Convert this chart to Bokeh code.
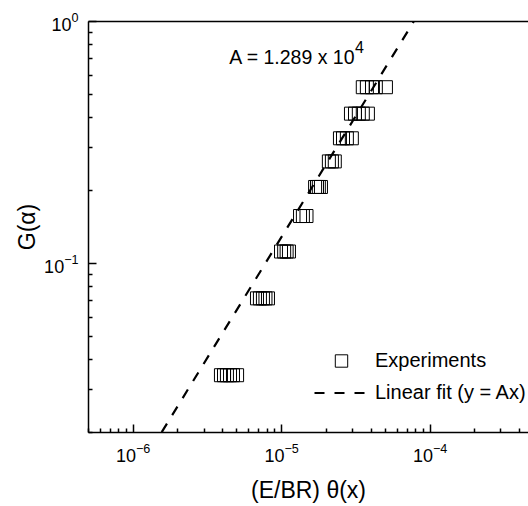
from bokeh.plotting import figure
from bokeh.models import LogAxis, FixedTicker, Legend, LegendItem, Label, ColumnDataSource
from bokeh.embed import file_html
from bokeh.resources import INLINE

# ---- data ----
g_levels = [0.535, 0.416, 0.329, 0.264, 0.207, 0.157, 0.112, 0.0717, 0.0345]
theta_rows = [
    [3.52e-5, 3.75e-5, 4.06e-5, 4.31e-5, 5.04e-5],
    [2.93e-5, 3.12e-5, 3.31e-5, 3.52e-5, 3.81e-5],
    [2.47e-5, 2.59e-5, 2.75e-5, 2.97e-5],
    [2.08e-5, 2.18e-5, 2.28e-5],
    [1.68e-5, 1.73e-5, 1.78e-5, 1.84e-5],
    [1.33e-5, 1.39e-5, 1.47e-5],
    [9.9e-6, 1.04e-5, 1.08e-5, 1.12e-5],
    [6.82e-6, 7.14e-6, 7.48e-6, 7.78e-6, 8.09e-6],
    [3.90e-6, 4.09e-6, 4.28e-6, 4.49e-6, 4.70e-6, 5.01e-6],
]
fit_A = 1.289e4
fit_x = [5e-7, 5e-4]
x_major = [1e-6, 1e-5, 1e-4]
x_minor = [5e-7, 6e-7, 7e-7, 8e-7, 9e-7,
           2e-6, 3e-6, 4e-6, 5e-6, 6e-6, 7e-6, 8e-6, 9e-6,
           2e-5, 3e-5, 4e-5, 5e-5, 6e-5, 7e-5, 8e-5, 9e-5,
           2e-4, 3e-4, 4e-4]
y_major = [0.1, 1.0]
y_minor = [0.02, 0.03, 0.04, 0.05, 0.06, 0.07, 0.08, 0.09,
           0.2, 0.3, 0.4, 0.5, 0.6, 0.7, 0.8, 0.9]

exp_x, exp_y = [], []
for g, row in zip(g_levels, theta_rows):
    for t in row:
        exp_x.append(t)
        exp_y.append(g)
fit_y = [fit_A * v for v in fit_x]

FONT = "Liberation Sans"

p = figure(width=528, height=506, x_axis_type="log", y_axis_type="log",
           x_range=(5e-7, 4.6e-4), y_range=(0.02, 1.0),
           min_border_left=88, min_border_right=0, min_border_top=21, min_border_bottom=74,
           output_backend="svg", toolbar_location=None)
p.outline_line_color = None
p.xgrid.visible = False
p.ygrid.visible = False

src = ColumnDataSource(dict(x=exp_x, y=exp_y))
r_sq = p.scatter(x="x", y="y", source=src, marker="square", size=13,
                 fill_color=None, line_color="black", line_width=1)
r_ln = p.line(fit_x, fit_y, line_dash="10 10", line_width=2.2, line_color="black")

p.xaxis.ticker = FixedTicker(ticks=x_major, minor_ticks=x_minor)
p.yaxis.ticker = FixedTicker(ticks=y_major, minor_ticks=y_minor)
for ax in (p.xaxis[0], p.yaxis[0]):
    ax.axis_line_width = 1.5
    ax.major_tick_line_width = 1.5
    ax.minor_tick_line_width = 1.5
    ax.major_tick_in = 8
    ax.major_tick_out = 0
    ax.minor_tick_in = 4
    ax.minor_tick_out = 0
    ax.major_label_text_font = FONT
    ax.major_label_text_font_size = "18px"
    ax.major_label_text_color = "black"
    ax.axis_label_text_font = FONT
    ax.axis_label_text_font_size = "23px"
    ax.axis_label_text_font_style = "normal"
    ax.axis_label_text_color = "black"
    ax.major_label_standoff = 10
p.xaxis.axis_label = "(E/BR) θ(x)"
p.yaxis.axis_label = "G(α)"
p.xaxis.axis_label_standoff = 12
p.yaxis.axis_label_standoff = 1

top = LogAxis(ticker=FixedTicker(ticks=[]), major_label_text_font_size="0px",
              axis_line_width=1.5, major_tick_in=0, major_tick_out=0,
              minor_tick_in=0, minor_tick_out=0)
p.add_layout(top, "above")

p.add_layout(Label(x=4.44e-6, y=0.712, text="A = 1.289 x 10", text_font=FONT,
                   text_font_size="19.5px", text_baseline="alphabetic", text_color="black"))
p.add_layout(Label(x=3.12e-5, y=0.783, text="4", text_font=FONT,
                   text_font_size="16px", text_baseline="alphabetic", text_color="black"))

legend = Legend(items=[LegendItem(label="Experiments", renderers=[r_sq]),
                       LegendItem(label="Linear fit (y = Ax)", renderers=[r_ln])],
                location=(226, 24), glyph_width=54, glyph_height=31, label_height=31,
                spacing=1, padding=0, margin=0, label_standoff=7,
                border_line_color=None, background_fill_alpha=0,
                label_text_font=FONT, label_text_font_size="20px", label_text_color="black")
p.add_layout(legend)

open("out.html", "w").write(file_html(p, INLINE))
